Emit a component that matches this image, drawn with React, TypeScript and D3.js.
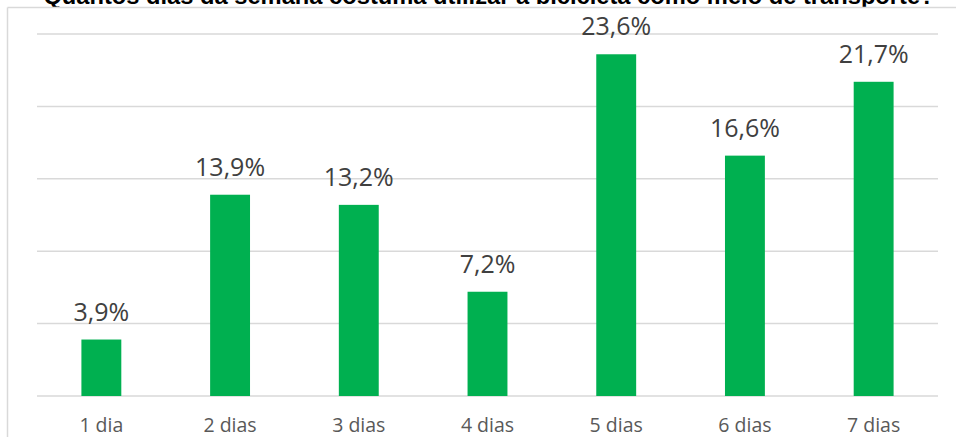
import React from "react";
import * as d3 from "d3";

const title = "Quantos dias da semana costuma utilizar a bicicleta como meio de transporte?";
const categories = ["1 dia", "2 dias", "3 dias", "4 dias", "5 dias", "6 dias", "7 dias"];
const values = [3.9, 13.9, 13.2, 7.2, 23.6, 16.6, 21.7];
const yTicks = [0, 5, 10, 15, 20, 25];

const W = 956;
const H = 437;

export default function App() {
  const x = d3
    .scaleBand<string>()
    .domain(categories)
    .range([37, 938])
    .paddingInner(0.69)
    .paddingOuter(0.345);
  const y = d3.scaleLinear().domain([0, 25]).range([396, 34]);
  const fmt = (v: number) => v.toFixed(1).replace(".", ",") + "%";

  return (
    <svg
      width={W}
      height={H}
      style={{ position: "absolute", left: 0, top: 0, background: "#fff" }}
    >
      <rect x={0} y={0} width={W} height={H} fill="#fff" />
      <text
        x={489}
        y={4}
        textAnchor="middle"
        fontFamily="'Liberation Sans', Arial, sans-serif"
        fontWeight="bold"
        fontSize={23.7}
        fill="#000"
      >
        {title}
      </text>
      <rect x={0} y={7} width={W} height={H} fill="#fff" />
      <line x1={7.5} x2={W} y1={7.5} y2={7.5} stroke="#d9d9d9" strokeWidth={1.5} />
      <line x1={7.5} x2={7.5} y1={7.5} y2={H} stroke="#d9d9d9" strokeWidth={1.5} />
      {yTicks.map((t) => (
        <line
          key={t}
          x1={37}
          x2={938}
          y1={y(t)}
          y2={y(t)}
          stroke="#d9d9d9"
          strokeWidth={1.5}
        />
      ))}
      {values.map((v, i) => (
        <rect
          key={categories[i]}
          x={x(categories[i])!}
          y={y(v)}
          width={x.bandwidth()}
          height={y(0) - y(v)}
          fill="#00b050"
        />
      ))}
      {values.map((v, i) => (
        <text
          key={"l" + i}
          x={x(categories[i])! + x.bandwidth() / 2}
          y={y(v) - 19}
          textAnchor="middle"
          fontFamily="'Open Sans', sans-serif"
          fontSize={25}
          fill="#404040"
        >
          {fmt(v)}
        </text>
      ))}
      {categories.map((c) => (
        <text
          key={c}
          x={x(c)! + x.bandwidth() / 2}
          y={432}
          textAnchor="middle"
          fontFamily="'Open Sans', sans-serif"
          fontSize={19.5}
          fill="#595959"
        >
          {c}
        </text>
      ))}
    </svg>
  );
}
